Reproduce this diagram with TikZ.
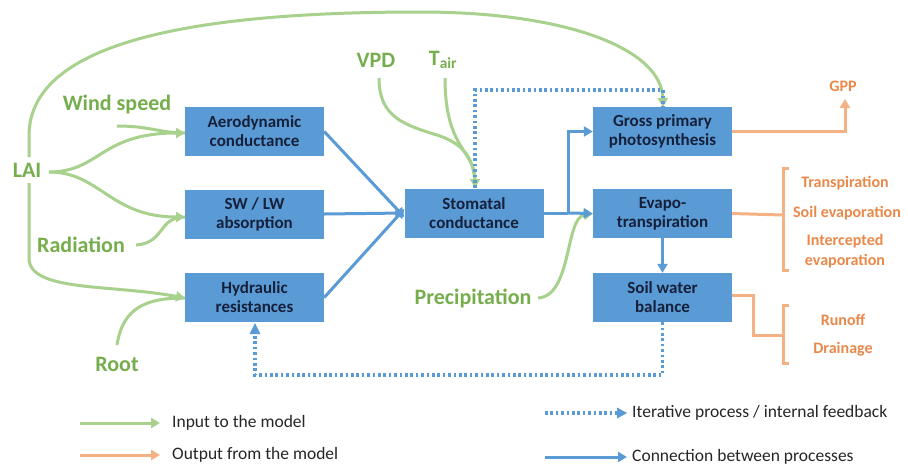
\documentclass[tikz,border=0pt]{standalone}
\usepackage{fontspec}
\setmainfont{Carlito}
\usetikzlibrary{arrows.meta}
\definecolor{boxblue}{HTML}{5B9BD5}
\definecolor{lineblue}{HTML}{5B9BD5}
\definecolor{gline}{HTML}{A9D18E}
\definecolor{gtext}{HTML}{76AE4E}
\definecolor{oline}{HTML}{F4B183}
\definecolor{otext}{HTML}{E8894A}
\definecolor{boxtext}{HTML}{15203A}
\tikzset{
  proc/.style={fill=boxblue, draw=none, minimum width=139pt, minimum height=49pt, inner sep=0pt,
    text=boxtext, font=\fontsize{17}{19}\selectfont\bfseries, align=center},
  inp/.style={text=gtext, font=\fontsize{22}{24}\selectfont\bfseries, inner sep=0pt},
  outp/.style={text=otext, font=\fontsize{16}{20}\selectfont\bfseries, inner sep=0pt, align=center},
  leg/.style={text=black!85, font=\fontsize{17.5}{19}\selectfont, anchor=west, inner sep=0pt},
  gtip/.style={-{Triangle[length=9pt,width=10pt]}},
  garr/.style={draw=gline, line width=3pt, gtip},
  gl/.style={draw=gline, line width=3pt},
  barr/.style={draw=lineblue, line width=3pt, -{Triangle[length=9pt,width=10pt]}},
  bl/.style={draw=lineblue, line width=3pt},
  dotl/.style={draw=lineblue, line width=3.2pt, dash pattern=on 2.6pt off 2.8pt},
  ol/.style={draw=oline, line width=3pt},
  oarr/.style={draw=oline, line width=3pt, -{Triangle[length=9pt,width=10pt]}},
}
\begin{document}
\begin{tikzpicture}[x=1pt, y=-1pt]
\useasboundingbox[fill=white] (0,0) rectangle (908,467);

% process boxes
\node[proc] (aero) at (254.5,131.5) {Aerodynamic\\conductance};
\node[proc] (swlw) at (254.5,214) {SW / LW\\absorption};
\node[proc] (hydr) at (254.5,297.5) {Hydraulic\\resistances};
\node[proc] (stom) at (474,213) {Stomatal\\conductance};
\node[proc] (gpp) at (662.5,131.5) {Gross primary\\photosynthesis};
\node[proc] (et) at (662.5,213.5) {Evapo-\\transpiration};
\node[proc] (swb) at (662.5,297.5) {Soil water\\balance};

% inputs
\node[inp] (lai) at (27,170) {LAI};
\node[inp] (wind) at (117,105) {Wind speed};
\node[inp] (rad) at (81,245) {Radiation};
\node[inp] (root) at (117,364) {Root};
\node[inp] (vpd) at (376,60) {VPD};
\node[inp] (tair) at (443,60) {T\textsubscript{air}};
\node[inp] (prec) at (473,298) {Precipitation};

% outputs
\node[outp] (gppo) at (843,86) {GPP};
\node[outp] (trans) at (845,183) {Transpiration};
\node[outp] (soilev) at (847,213) {Soil evaporation};
\node[outp] (interc) at (845,251) {Intercepted\\evaporation};
\node[outp] (runoff) at (843,320) {Runoff};
\node[outp] (drain) at (843,349) {Drainage};

% helper coordinates
\coordinate (laiR) at (49,172);
\coordinate (laiT) at (29,157);
\coordinate (laiB) at (29,183);
\coordinate (wsS) at (117,126);
\coordinate (radS) at (136,245);
\coordinate (rootS) at (117,345);
\coordinate (vpdS) at (379,78);
\coordinate (tairS) at (445,78);
\coordinate (precS) at (538,298);
\coordinate (aeroIn) at (185,133);
\coordinate (swlwIn) at (185,217);
\coordinate (hydrIn) at (185,298);
\coordinate (stomTop) at (475,188);
\coordinate (gppTop) at (663,107);

% green input connectors
\draw[garr] (laiR) .. controls (100,172) and (100,133) .. (aeroIn);
\draw[gl] (wsS) .. controls (150,126) and (160,133) .. (aeroIn);
\draw[garr] (laiR) .. controls (100,172) and (110,217) .. (swlwIn);
\draw[gl] (radS) .. controls (165,243) and (158,217) .. (swlwIn);
\draw[garr] (laiB) -- (29,258) .. controls (29,292) and (110,284) .. (hydrIn);
\draw[gl] (rootS) .. controls (123,305) and (150,298) .. (hydrIn);
\draw[garr] (laiT) -- (29,135) .. controls (30,40) and (200,12) .. (420,12) .. controls (570,12) and (662,50) .. (gppTop);
\draw[gl] (vpdS) .. controls (379,118) and (405,125) .. (440,136) .. controls (465,145) and (475,160) .. (stomTop);
\draw[garr] (tairS) .. controls (445,150) and (475,150) .. (stomTop);
\draw[garr] (precS) .. controls (572,296) and (565,218) .. (et.west);

% blue connectors
\draw[barr] (aero.east) -- ([yshift=-4pt]stom.west);
\draw[barr] (swlw.east) -- (stom.west);
\draw[barr] (hydr.east) -- ([yshift=4pt]stom.west);
\coordinate (split) at (568,213);
\draw[bl] (stom.east) -- (split);
\draw[barr] (split) |- (gpp.west);
\draw[barr] (split) -- (et.west);
\draw[barr] (et.south) -- (swb.north);

% dotted feedback
\draw[dotl] (stomTop) -- (475,90) -- (663,90) -- (gppTop);
\draw[dotl] (swb.south) -- (662.5,375) -- (255,375) -- (255,335);
\draw[draw=none, fill=lineblue] (255,323) -- (249.5,334) -- (260.5,334) -- cycle;

% orange outputs
\draw[oarr] (gpp.east) -| (845,99);
\draw[ol] (et.east) -- (783,215);
\draw[ol] (789,168) -- (783,168) -- (783,270) -- (789,270);
\draw[ol] (swb.east |- 0,295) -- (753,295) -- (753,335) -- (783,335);
\draw[ol] (789,305) -- (783,305) -- (783,363) -- (789,363);

% legend
\coordinate (l1a) at (80,423); \coordinate (l1b) at (160,423);
\coordinate (l2a) at (80,455); \coordinate (l2b) at (160,455);
\coordinate (l3a) at (545,413); \coordinate (l3b) at (627,413);
\coordinate (l4a) at (545,457); \coordinate (l4b) at (627,457);
\draw[draw=gline, line width=3pt, -{Triangle[length=9pt,width=10pt]}] (l1a) -- (l1b);
\draw[draw=oline, line width=3pt, -{Triangle[length=9pt,width=10pt]}] (l2a) -- (l2b);
\draw[dotl] (l3a) -- ([xshift=-9pt]l3b);
\draw[draw=none, fill=lineblue] (l3b) -- ++(-10,-5.5) -- ++(0,11) -- cycle;
\draw[barr] (l4a) -- (l4b);
\node[leg] (t1) at (172,423) {Input to the model};
\node[leg] (t2) at (172,455) {Output from the model};
\node[leg] (t3) at (632,413) {Iterative process / internal feedback};
\node[leg] (t4) at (632,457) {Connection between processes};
\end{tikzpicture}
\end{document}
